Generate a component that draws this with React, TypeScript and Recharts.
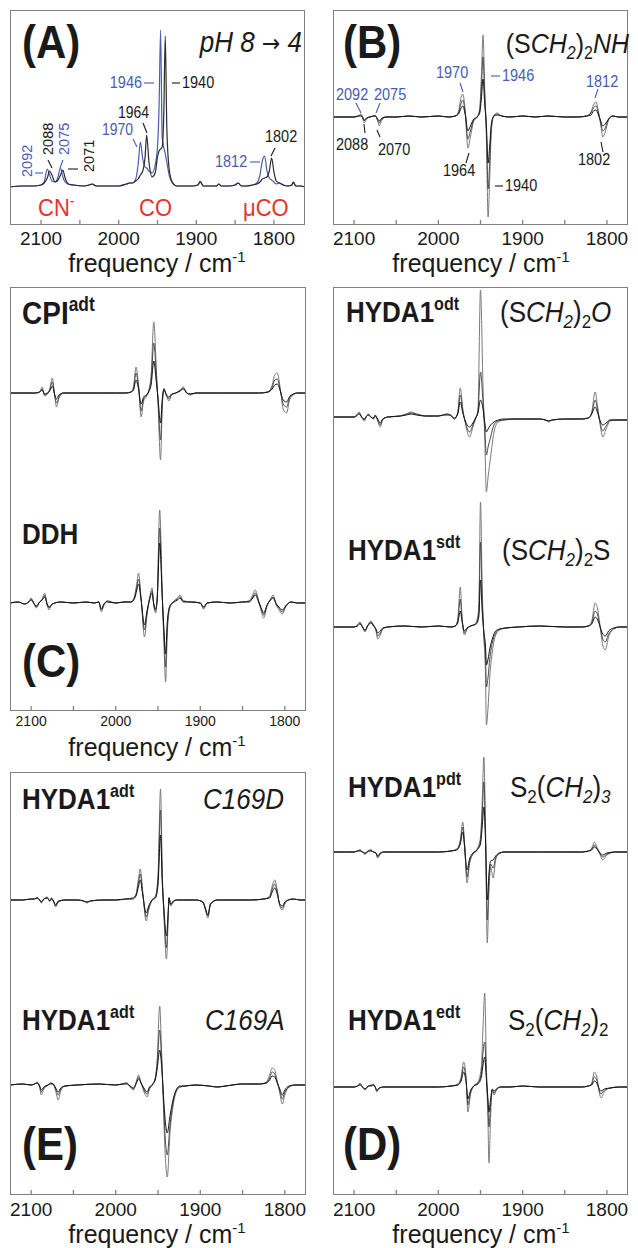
import { LineChart, Line, XAxis, YAxis } from 'recharts';

const FONT = '"Liberation Sans", Arial, Helvetica, sans-serif';
const INK = '#1a1a1a';
const FRAME = '#808080';
const BLUE = '#4b5cb2';
const RED = '#e8322e';
const GRAYS = ['#7a7a7a', '#4a4a4a', '#141414'];
const SY = 1.12; // the figure is slightly stretched vertically

const TICKS = [2100, 2050, 2000, 1950, 1900, 1850, 1800];

// (A) absorbance, pH 8 (blue) and pH 4 (black)
const aFreq = [2140, 2125, 2110, 2100, 2096, 2092, 2089, 2086, 2082, 2079, 2075, 2072, 2069, 2065, 2058, 2045, 2038, 2034, 2029, 2015, 2000, 1990, 1986, 1982, 1978, 1975, 1972, 1969, 1966, 1964, 1961, 1957, 1953, 1950, 1948, 1946, 1944, 1942, 1940, 1938, 1935, 1931, 1925, 1915, 1905, 1898, 1895, 1891, 1880, 1874, 1871, 1868, 1858, 1850, 1846, 1842, 1835, 1828, 1822, 1818, 1815, 1812, 1809, 1806, 1803, 1800, 1797, 1793, 1788, 1782, 1777, 1775, 1772, 1766, 1760];
const aBlue = [0, 1, 1, 2, 5, 18, 12, 6, 5, 8, 19, 10, 5, 3, 2, 1, 2, 3, 1, 1, 1, 3, 4, 4, 8, 22, 45, 28, 20, 19, 16, 14, 22, 40, 80, 157, 50, 40, 33, 25, 12, 4, 1, 1, 1, 2, 6, 1, 1, 1, 3, 1, 1, 2, 4, 1, 1, 2, 4, 12, 26, 31, 16, 9, 7, 5, 3, 4, 2, 1, 2, 5, 1, 1, 0];
const aBlack = [0, 1, 1, 2, 4, 9, 16, 12, 5, 6, 12, 17, 9, 3, 2, 1, 2, 3, 1, 1, 1, 3, 4, 4, 6, 8, 12, 16, 30, 52, 25, 10, 14, 30, 36, 38, 40, 70, 151, 60, 18, 5, 1, 1, 1, 2, 5, 1, 1, 1, 3, 1, 1, 2, 4, 1, 1, 2, 3, 5, 8, 9, 10, 16, 29, 15, 6, 4, 2, 1, 2, 5, 1, 1, 0];

// (B) HYDA1 adt, pH-induced difference spectra
const bFreq = [2125, 2112, 2100, 2095, 2092, 2090, 2088, 2085, 2081, 2077, 2075, 2072, 2070, 2067, 2062, 2050, 2035, 2020, 2000, 1988, 1980, 1976, 1973, 1971, 1968, 1965, 1962, 1958, 1954, 1951, 1949, 1947, 1945, 1943, 1941, 1939, 1937, 1934, 1930, 1925, 1915, 1900, 1885, 1870, 1850, 1835, 1824, 1819, 1816, 1813, 1810, 1807, 1805, 1802, 1798, 1793, 1786, 1775];
const bLarge = [0, 0, 0, 1, 3, 0, -6, -2, 0, 1, 2, -4, -9, -3, 0, 0, 1, 0, 1, 0, 1, 6, 20, 23, 5, -31, -20, -4, 0, 8, 40, 82, 30, -20, -100, -60, -12, 2, 4, 1, 0, 1, 0, 1, 0, 0, 1, 5, 12, 15, 5, -10, -20, -15, -3, 1, 0, 0];
const bMid = [0, 0, 0, 1, 2, 0, -4, -1, 0, 1, 1, -3, -6, -2, 0, 0, 1, 0, 1, 0, 1, 4, 14, 17, 3, -22, -14, -3, 0, 6, 29, 60, 21, -14, -72, -43, -9, 1, 3, 1, 0, 1, 0, 1, 0, 0, 1, 4, 9, 11, 4, -7, -14, -11, -2, 1, 0, 0];
const bSmall = [0, 0, 0, 1, 1, 0, -3, -1, 0, 1, 1, -2, -4, -1, 0, 0, 1, 0, 1, 0, 1, 3, 9, 11, 2, -14, -9, -2, 0, 4, 18, 38, 13, -9, -46, -28, -6, 1, 2, 1, 0, 1, 0, 1, 0, 0, 1, 2, 6, 7, 2, -5, -9, -7, -2, 1, 0, 0];

// (C) CPI adt
const cpiFreq = [2125, 2110, 2095, 2090, 2087, 2084, 2081, 2078, 2075, 2072, 2070, 2067, 2062, 2045, 2020, 2000, 1988, 1982, 1979, 1976, 1973, 1970, 1967, 1964, 1961, 1958, 1955, 1952, 1950, 1947, 1945, 1943, 1940, 1937, 1934, 1929, 1924, 1920, 1916, 1912, 1905, 1880, 1850, 1830, 1820, 1815, 1812, 1809, 1805, 1802, 1798, 1794, 1785, 1775];
const cpiLarge = [0, 0, 0, 1, 6, -3, -1, 4, 15, -4, -14, -5, 0, 0, 0, 0, 0, 1, 6, 26, 8, -24, -8, -4, 2, 20, 71, 25, -10, -67, -15, 5, -3, -8, -2, 0, 3, 6, 0, -2, 0, 0, 0, 0, 1, 8, 18, 20, 2, -16, -20, -6, 0, 0];
const cpiMid = [0, 0, 0, 1, 4, -2, -1, 3, 11, -3, -10, -4, 0, 0, 0, 0, 0, 1, 4, 20, 6, -18, -6, -3, 2, 14, 50, 18, -7, -47, -11, 4, -2, -6, -2, 0, 2, 5, 0, -1, 0, 0, 0, 0, 1, 6, 13, 14, 1, -11, -14, -4, 0, 0];
const cpiSmall = [0, 0, 0, 1, 3, -1, 0, 2, 7, -2, -6, -2, 0, 0, 0, 0, 0, 1, 3, 13, 4, -11, -4, -2, 1, 9, 32, 11, -5, -30, -7, 3, -2, -4, -1, 0, 2, 4, 0, -1, 0, 0, 0, 0, 1, 4, 8, 9, 1, -7, -9, -3, 0, 0];

// (C) DDH
const ddhFreq = [2125, 2115, 2108, 2103, 2100, 2097, 2094, 2090, 2087, 2084, 2081, 2079, 2075, 2065, 2050, 2035, 2025, 2020, 2017, 2014, 2010, 2000, 1990, 1982, 1978, 1975, 1973, 1970, 1966, 1963, 1960, 1957, 1955, 1953, 1951, 1948, 1945, 1943, 1941, 1939, 1936, 1931, 1927, 1924, 1920, 1910, 1900, 1896, 1892, 1880, 1865, 1850, 1842, 1838, 1835, 1831, 1828, 1825, 1821, 1817, 1814, 1810, 1806, 1803, 1799, 1793, 1785, 1775];
const ddhLarge = [0, 1, -1, 1, 5, 0, -5, 1, 4, 10, -2, -7, -1, 1, 0, 1, 0, 1, -9, -2, 2, 0, 1, 1, 6, 20, 30, 5, -34, -12, 5, 15, -2, -10, 5, 93, 10, -40, -79, -30, -5, 2, 5, 8, 2, 1, 0, -6, 0, 1, 0, 1, 2, 8, 13, 2, -8, -15, -3, 4, 8, -2, -8, -11, -4, 1, 0, 0];
const ddhMid = [0, 1, -1, 1, 4, 0, -4, 1, 3, 8, -2, -5, -1, 1, 0, 1, 0, 1, -7, -2, 2, 0, 1, 1, 5, 16, 24, 4, -27, -10, 4, 12, -2, -8, 4, 75, 8, -32, -64, -24, -4, 2, 4, 6, 2, 1, 0, -5, 0, 1, 0, 1, 2, 6, 10, 2, -6, -12, -2, 3, 6, -2, -6, -9, -3, 1, 0, 0];
const ddhSmall = [0, 1, -1, 1, 3, 0, -3, 1, 3, 6, -1, -4, -1, 1, 0, 1, 0, 1, -6, -1, 1, 0, 1, 1, 4, 13, 19, 3, -22, -8, 3, 10, -1, -6, 3, 60, 6, -26, -51, -19, -3, 1, 3, 5, 1, 1, 0, -4, 0, 1, 0, 1, 1, 5, 8, 1, -5, -10, -2, 3, 5, -1, -5, -7, -3, 1, 0, 0];

// (E) HYDA1 adt C169D
const c169dFreq = [2125, 2110, 2100, 2096, 2093, 2090, 2088, 2085, 2081, 2078, 2076, 2073, 2071, 2068, 2060, 2045, 2038, 2034, 2030, 2015, 2000, 1988, 1980, 1976, 1973, 1971, 1968, 1964, 1961, 1957, 1953, 1950, 1947, 1945, 1943, 1940, 1938, 1937, 1935, 1932, 1928, 1920, 1905, 1897, 1894, 1891, 1888, 1880, 1860, 1840, 1825, 1818, 1815, 1812, 1809, 1806, 1803, 1800, 1796, 1790, 1782, 1775];
const c169dLarge = [0, 0, 1, 1, 3, 0, -3, 1, 3, -1, 2, -3, -7, -2, 0, 0, -1, -3, -1, 0, 0, 1, 2, 6, 22, 31, 8, -21, -10, 0, 4, 25, 111, 30, -15, -59, -20, 3, -6, -2, 0, 0, 0, -2, -10, -18, -5, 0, 0, 0, 1, 4, 14, 20, 10, -6, -10, -4, 0, 1, 0, 0];
const c169dMid = [0, 0, 1, 1, 2, 0, -2, 1, 2, -1, 2, -2, -6, -2, 0, 0, -1, -2, -1, 0, 0, 1, 2, 5, 18, 26, 6, -17, -8, 0, 3, 20, 90, 24, -12, -48, -16, 2, -5, -2, 0, 0, 0, -2, -9, -16, -4, 0, 0, 0, 1, 3, 11, 16, 8, -5, -8, -3, 0, 1, 0, 0];
const c169dSmall = [0, 0, 1, 1, 2, 0, -2, 1, 2, -1, 1, -2, -5, -1, 0, 0, -1, -2, -1, 0, 0, 1, 1, 4, 14, 20, 5, -13, -6, 0, 2, 15, 65, 18, -9, -36, -12, 2, -4, -1, 0, 0, 0, -2, -8, -15, -4, 0, 0, 0, 1, 2, 8, 12, 6, -4, -6, -2, 0, 1, 0, 0];

// (E) HYDA1 adt C169A
const c169aFreq = [2125, 2110, 2100, 2096, 2093, 2090, 2088, 2085, 2080, 2077, 2074, 2071, 2068, 2065, 2060, 2045, 2020, 2000, 1992, 1987, 1983, 1979, 1976, 1973, 1970, 1966, 1963, 1960, 1956, 1953, 1951, 1948, 1946, 1944, 1942, 1939, 1936, 1932, 1928, 1924, 1918, 1905, 1890, 1880, 1870, 1850, 1830, 1822, 1818, 1815, 1812, 1809, 1806, 1803, 1800, 1795, 1788, 1775];
const c169aLarge = [0, 1, 0, 1, 3, -2, -10, -4, 0, 2, 1, -6, -15, -6, -1, 0, 1, 0, 1, 2, -2, -5, 2, 10, 2, -8, -12, -4, 1, 8, 25, 79, 40, -10, -60, -92, -50, -20, -6, -2, -1, 0, -1, -2, -1, 1, 1, 3, 10, 17, 15, 4, -8, -19, -10, -2, 0, 0];
const c169aMid = [0, 1, 0, 1, 2, -1, -7, -3, 0, 2, 1, -4, -10, -4, -1, 0, 1, 0, 1, 2, -1, -4, 2, 8, 2, -6, -9, -3, 1, 8, 20, 55, 30, -6, -45, -70, -42, -17, -5, -2, -1, 0, -1, -2, -1, 1, 1, 2, 7, 13, 11, 3, -6, -14, -7, -2, 0, 0];
const c169aSmall = [0, 1, 0, 1, 2, -1, -5, -2, 0, 1, 1, -3, -7, -3, -1, 0, 1, 0, 1, 1, -1, -3, 1, 6, 2, -4, -7, -2, 1, 6, 16, 35, 22, -4, -30, -48, -32, -14, -4, -1, -1, 0, -1, -2, -1, 1, 1, 2, 5, 9, 8, 2, -4, -10, -5, -1, 0, 0];

// (D) HYDA1 odt
const odtFreq = [2125, 2110, 2100, 2097, 2094, 2091, 2088, 2085, 2083, 2080, 2077, 2075, 2072, 2069, 2066, 2060, 2045, 2038, 2032, 2026, 2015, 2000, 1994, 1990, 1986, 1981, 1977, 1974, 1971, 1968, 1963, 1959, 1956, 1953, 1950, 1947, 1945, 1943, 1941, 1938, 1934, 1929, 1922, 1910, 1895, 1880, 1873, 1869, 1865, 1850, 1830, 1822, 1818, 1814, 1811, 1808, 1805, 1801, 1796, 1788, 1775];
const odtLarge = [0, 0, 0, 2, 5, 0, -4, 1, 3, 0, -2, 2, -4, -10, -3, 0, 1, 3, 5, 3, 1, 1, 2, 3, 2, -2, 5, 29, 8, -6, -20, -10, -2, 8, 127, 30, -20, -75, -60, -40, -15, -5, -3, -2, -2, -2, -3, -5, -3, -2, -2, -1, 5, 25, 10, -8, -20, -12, -4, -3, -3];
const odtMid = [0, 0, 0, 2, 4, 0, -3, 1, 2, 0, -2, 2, -3, -8, -2, 0, 1, 3, 4, 3, 1, 1, 2, 3, 2, -2, 4, 22, 6, -5, -15, -8, -2, 6, 45, 15, -10, -38, -30, -20, -8, -4, -3, -2, -2, -2, -3, -4, -3, -2, -2, -1, 4, 17, 7, -6, -14, -9, -3, -3, -3];
const odtSmall = [0, 0, 0, 1, 3, 0, -2, 1, 2, 0, -1, 1, -2, -6, -2, 0, 1, 2, 3, 2, 1, 1, 2, 2, 2, -1, 3, 15, 4, -4, -10, -6, -1, 4, 17, 8, -5, -15, -12, -8, -5, -3, -2, -2, -2, -2, -3, -4, -3, -2, -2, -1, 3, 10, 4, -4, -8, -6, -3, -3, -3];

// (D) HYDA1 sdt
const sdtFreq = [2125, 2110, 2100, 2096, 2093, 2090, 2087, 2084, 2080, 2077, 2074, 2072, 2069, 2066, 2060, 2040, 2020, 2000, 1985, 1980, 1977, 1974, 1972, 1969, 1966, 1962, 1958, 1955, 1952, 1950, 1948, 1946, 1944, 1943, 1941, 1939, 1936, 1932, 1927, 1920, 1905, 1880, 1850, 1830, 1822, 1818, 1814, 1811, 1808, 1805, 1802, 1798, 1792, 1785, 1775];
const sdtLarge = [0, 0, 0, 2, 5, 0, -5, 1, 6, 2, -4, -12, -8, -2, 0, 1, 0, 1, 0, 1, 8, 40, 12, -8, -2, 1, 2, 5, 20, 125, 40, -10, -50, -98, -80, -50, -25, -8, -3, -1, 0, 1, 0, 0, 1, 6, 24, 18, 0, -18, -23, -10, -2, 0, 0];
const sdtMid = [0, 0, 0, 2, 4, 0, -4, 1, 5, 2, -3, -9, -6, -2, 0, 1, 0, 1, 0, 1, 6, 28, 9, -6, -2, 1, 2, 4, 15, 85, 28, -8, -32, -60, -50, -32, -16, -6, -2, -1, 0, 1, 0, 0, 1, 4, 16, 12, 0, -12, -15, -7, -2, 0, 0];
const sdtSmall = [0, 0, 0, 1, 3, 0, -3, 1, 4, 1, -2, -6, -4, -1, 0, 1, 0, 1, 0, 1, 4, 16, 6, -4, -1, 1, 2, 3, 10, 47, 16, -5, -20, -38, -32, -22, -12, -4, -2, -1, 0, 1, 0, 0, 1, 3, 10, 7, 0, -7, -9, -4, -1, 0, 0];

// (D) HYDA1 pdt
const pdtFreq = [2125, 2110, 2100, 2096, 2093, 2090, 2087, 2083, 2080, 2077, 2074, 2072, 2069, 2065, 2050, 2030, 2000, 1985, 1978, 1974, 1971, 1969, 1966, 1963, 1959, 1954, 1950, 1948, 1946, 1944, 1942, 1940, 1938, 1935, 1932, 1928, 1922, 1910, 1880, 1850, 1830, 1822, 1818, 1815, 1812, 1808, 1805, 1800, 1790, 1775];
const pdtLarge = [0, 0, 0, 1, 2, 0, -2, 1, 2, 0, -1, -6, -2, 0, 0, 0, 0, 1, 3, 12, 30, 10, -31, -12, -2, 3, 15, 50, 95, 20, -91, -40, -15, -26, -8, -2, 0, 0, 0, 0, 0, 1, 4, 10, 5, -3, -8, -3, 0, 0];
const pdtMid = [0, 0, 0, 1, 2, 0, -2, 1, 2, 0, -1, -5, -2, 0, 0, 0, 0, 1, 3, 10, 25, 8, -25, -10, -2, 2, 11, 37, 70, 15, -68, -30, -12, -16, -6, -2, 0, 0, 0, 0, 0, 1, 3, 7, 4, -2, -5, -2, 0, 0];
const pdtSmall = [0, 0, 0, 1, 1, 0, -1, 1, 1, 0, -1, -4, -1, 0, 0, 0, 0, 1, 2, 8, 20, 6, -18, -7, -1, 2, 8, 25, 45, 10, -48, -22, -9, -8, -4, -1, 0, 0, 0, 0, 0, 1, 2, 5, 3, -1, -3, -1, 0, 0];

// (D) HYDA1 edt
const edtFreq = [2125, 2110, 2100, 2096, 2093, 2090, 2087, 2083, 2079, 2077, 2075, 2073, 2070, 2065, 2050, 2030, 2000, 1985, 1977, 1973, 1970, 1967, 1965, 1962, 1958, 1953, 1949, 1947, 1945, 1943, 1941, 1940, 1938, 1936, 1934, 1931, 1926, 1915, 1900, 1880, 1850, 1830, 1822, 1818, 1815, 1812, 1809, 1807, 1803, 1796, 1785, 1775];
const edtLarge = [0, 0, 0, 1, 4, 0, -3, 1, 2, 3, 0, -5, -1, 0, 0, 0, 0, 1, 3, 10, 25, 8, -25, -8, 1, 5, 20, 60, 94, 20, -40, -76, -30, -3, -8, -3, 0, 0, 1, 0, 0, 0, 1, 4, 15, 10, -6, -11, -5, -1, 0, 0];
const edtMid = [0, 0, 0, 1, 3, 0, -2, 1, 2, 2, 0, -4, -1, 0, 0, 0, 0, 1, 2, 8, 20, 6, -18, -6, 1, 4, 14, 35, 45, 12, -22, -40, -18, -3, -6, -2, 0, 0, 1, 0, 0, 0, 1, 3, 10, 7, -4, -7, -3, -1, 0, 0];
const edtSmall = [0, 0, 0, 1, 2, 0, -2, 1, 1, 2, 0, -3, -1, 0, 0, 0, 0, 1, 2, 6, 15, 4, -12, -4, 1, 3, 10, 22, 30, 8, -14, -25, -12, -2, -4, -2, 0, 0, 1, 0, 0, 0, 1, 2, 6, 4, -2, -4, -2, -1, 0, 0];

type Spec = { id: string; rows: any[]; n: number; domain: [number, number]; colors: string[]; width: number };

const toRows = (freq: number[], traces: number[][]) =>
  freq.map((f, i) => {
    const r: any = { f };
    traces.forEach((t, k) => { r['t' + k] = t[i]; });
    return r;
  });

// baseline (page y) of each stacked spectrum, inside its box [top, bottom]
const spec = (id: string, freq: number[], traces: number[][], top: number, bottom: number, base: number, colors = GRAYS, width = 1): Spec => ({
  id, rows: toRows(freq, traces), n: traces.length, domain: [-(bottom - base), base - top], colors, width,
});

const specA = [spec('a', aFreq, [aBlue, aBlack], 10, 225, 187, [BLUE, '#2b2b2b'], 1.2)];
const specB = [spec('b', bFreq, [bLarge, bMid, bSmall], 10, 225, 117)];
const specC = [
  spec('cpi', cpiFreq, [cpiLarge, cpiMid, cpiSmall], 287, 711, 393),
  spec('ddh', ddhFreq, [ddhLarge, ddhMid, ddhSmall], 287, 711, 603),
];
const specE = [
  spec('c169d', c169dFreq, [c169dLarge, c169dMid, c169dSmall], 772, 1195, 900),
  spec('c169a', c169aFreq, [c169aLarge, c169aMid, c169aSmall], 772, 1195, 1085),
];
const specD = [
  spec('odt', odtFreq, [odtLarge, odtMid, odtSmall], 287, 1195, 417),
  spec('sdt', sdtFreq, [sdtLarge, sdtMid, sdtSmall], 287, 1195, 627),
  spec('pdt', pdtFreq, [pdtLarge, pdtMid, pdtSmall], 287, 1195, 852),
  spec('edt', edtFreq, [edtLarge, edtMid, edtSmall], 287, 1195, 1087),
];

const FreqTick = ({ x, y, payload, labelSize, labelDy }: any) => {
  const v = payload.value;
  return (
    <g>
      <line x1={x} x2={x} y1={y} y2={y - 5} stroke={FRAME} strokeWidth={1.3} />
      {v % 100 === 0 && (
        <text x={x} y={y + labelDy} textAnchor="middle" fontSize={labelSize} fontFamily={FONT} fill={INK}>
          {v}
        </text>
      )}
    </g>
  );
};

const Panel = ({ box, fDomain, spectra, labelSize, labelDy }: { box: number[]; fDomain: [number, number]; spectra: Spec[]; labelSize: number; labelDy: number }) => {
  const [l, t, r, b] = box;
  const w = r - l;
  const h = b - t;
  const axisH = 34;
  return (
    <div style={{ position: 'absolute', left: l, top: t, width: w, height: h + axisH }}>
      <LineChart width={w} height={h + axisH} margin={{ top: 0, right: 0, bottom: 0, left: 0 }}>
        <XAxis
          type="number"
          dataKey="f"
          domain={fDomain}
          reversed
          allowDataOverflow
          ticks={TICKS}
          interval={0}
          axisLine={false}
          tickLine={false}
          tickSize={0}
          tickMargin={0}
          height={axisH}
          tick={(p: any) => <FreqTick {...p} labelSize={labelSize} labelDy={labelDy} />}
        />
        {spectra.map((s) => (
          <YAxis key={s.id} yAxisId={s.id} domain={s.domain} hide allowDataOverflow />
        ))}
        {spectra.flatMap((s) =>
          Array.from({ length: s.n }, (_, k) => (
            <Line
              key={s.id + k}
              yAxisId={s.id}
              data={s.rows}
              dataKey={'t' + k}
              type="monotone"
              dot={false}
              stroke={s.colors[k]}
              strokeWidth={s.width}
              isAnimationActive={false}
            />
          ))
        )}
      </LineChart>
      <div style={{ position: 'absolute', left: 0, top: 0, width: w, height: h, border: `1.5px solid ${FRAME}`, boxSizing: 'border-box', pointerEvents: 'none' }} />
    </div>
  );
};

const T = ({ x, y, size, children, anchor = 'start', bold = false, italic = false, fill = INK, rotate = 0, flat = false }: any) => (
  <text
    transform={rotate ? `translate(${x},${y}) rotate(${rotate})` : flat ? `translate(${x},${y})` : `translate(${x},${y}) scale(1,${SY})`}
    fontSize={size}
    textAnchor={anchor}
    fontWeight={bold ? 'bold' : 'normal'}
    fontStyle={italic ? 'italic' : 'normal'}
    fill={fill}
    fontFamily={FONT}
  >
    {children}
  </text>
);

const Lead = ({ x1, y1, x2, y2, c = INK }: any) => <line x1={x1} y1={y1} x2={x2} y2={y2} stroke={c} strokeWidth={1.1} />;

const XLabel = ({ x, y }: any) => (
  <T x={x} y={y} size={25} anchor="middle" flat>
    frequency / cm<tspan fontSize={15} dy={-10}>-1</tspan>
  </T>
);

const Enzyme = ({ x, y, name, sup, size = 26 }: any) => (
  <T x={x} y={y} size={size} bold>
    {name}
    <tspan fontSize={size * 0.62} dy={-size * 0.42}>{sup}</tspan>
  </T>
);

export default function App() {
  return (
    <div style={{ position: 'absolute', left: 0, top: 0, width: 638, height: 1248, background: '#fff' }}>
      <Panel box={[10, 10, 305, 225]} fDomain={[1760, 2140]} spectra={specA} labelSize={19} labelDy={20} />
      <Panel box={[333, 10, 628, 225]} fDomain={[1775, 2125]} spectra={specB} labelSize={19} labelDy={20} />
      <Panel box={[10, 287, 306, 711]} fDomain={[1775, 2125]} spectra={specC} labelSize={14} labelDy={15} />
      <Panel box={[10, 772, 306, 1195]} fDomain={[1775, 2125]} spectra={specE} labelSize={19} labelDy={21} />
      <Panel box={[333, 287, 628, 1195]} fDomain={[1775, 2125]} spectra={specD} labelSize={19} labelDy={21} />

      <svg width={638} height={1248} style={{ position: 'absolute', left: 0, top: 0, pointerEvents: 'none' }}>
        {/* (A) */}
        <T x={22} y={58} size={42} bold>(A)</T>
        <T x={302} y={52} size={26} italic anchor="end">
          pH 8 <tspan fontFamily='"DejaVu Sans", sans-serif' fontStyle="normal" fontSize={22}>→</tspan> 4
        </T>
        <T x={142} y={88} size={14.5} fill={BLUE} anchor="end">1946</T>
        <Lead x1={144} y1={83} x2={154} y2={83} c={BLUE} />
        <Lead x1={172} y1={83} x2={180} y2={83} />
        <T x={182} y={88} size={14.5}>1940</T>
        <T x={118} y={118} size={14}>1964</T>
        <Lead x1={143} y1={123} x2={147} y2={133} />
        <T x={102} y={135} size={14} fill={BLUE}>1970</T>
        <Lead x1={133} y1={139} x2={137} y2={147} c={BLUE} />
        <T x={265} y={142} size={14.5}>1802</T>
        <Lead x1={275} y1={148} x2={271} y2={156} />
        <T x={215} y={167} size={14.5} fill={BLUE}>1812</T>
        <Lead x1={250} y1={162} x2={260} y2={162} c={BLUE} />
        <T x={32} y={177} size={14.5} fill={BLUE} rotate={-90}>2092</T>
        <Lead x1={35} y1={173} x2={43} y2={173} c={BLUE} />
        <T x={53} y={155} size={14.5} rotate={-90}>2088</T>
        <Lead x1={48} y1={160} x2={52} y2={168} />
        <T x={69} y={155} size={14.5} fill={BLUE} rotate={-90}>2075</T>
        <Lead x1={63} y1={160} x2={60} y2={168} c={BLUE} />
        <T x={94} y={172} size={14.5} rotate={-90}>2071</T>
        <Lead x1={68} y1={169} x2={78} y2={169} />
        <T x={38} y={216} size={22} fill={RED}>CN<tspan fontSize={14} dy={-9}>-</tspan></T>
        <T x={139} y={216} size={22} fill={RED}>CO</T>
        <T x={243} y={216} size={22} fill={RED}>μCO</T>
        <XLabel x={157} y={272} />

        {/* (B) */}
        <T x={343} y={58} size={42} bold>(B)</T>
        <T x={629} y={53} size={25} anchor="end">
          (S<tspan fontStyle="italic">CH</tspan><tspan fontSize={16} dy={5} fontStyle="italic">2</tspan><tspan dy={-5}>)</tspan><tspan fontSize={16} dy={5}>2</tspan><tspan dy={-5} fontStyle="italic">NH</tspan>
        </T>
        <T x={436} y={78} size={14.5} fill={BLUE}>1970</T>
        <Lead x1={460} y1={83} x2={463} y2={92} c={BLUE} />
        <Lead x1={491} y1={76} x2={500} y2={76} c={BLUE} />
        <T x={502} y={81} size={14.5} fill={BLUE}>1946</T>
        <T x={336} y={100} size={14.5} fill={BLUE}>2092</T>
        <T x={374} y={100} size={14.5} fill={BLUE}>2075</T>
        <Lead x1={356} y1={103} x2={361} y2={113} c={BLUE} />
        <Lead x1={380} y1={103} x2={376} y2={113} c={BLUE} />
        <T x={586} y={87} size={14.5} fill={BLUE}>1812</T>
        <Lead x1={598} y1={89} x2={595} y2={98} c={BLUE} />
        <T x={336} y={150} size={14.5}>2088</T>
        <Lead x1={365} y1={133} x2={364} y2={124} />
        <T x={378} y={155} size={14.5}>2070</T>
        <Lead x1={380} y1={137} x2={377} y2={130} />
        <T x={443} y={176} size={14.5}>1964</T>
        <Lead x1={466} y1={163} x2={469} y2={153} />
        <Lead x1={495} y1={186} x2={503} y2={186} />
        <T x={505} y={191} size={14.5}>1940</T>
        <T x={578} y={165} size={14.5}>1802</T>
        <Lead x1={603} y1={152} x2={601} y2={142} />
        <XLabel x={481} y={272} />

        {/* (C) */}
        <Enzyme x={22} y={324} name="CPI" sup="adt" size={28} />
        <T x={22} y={544} size={26} bold>DDH</T>
        <T x={22} y={677} size={42} bold>(C)</T>
        <XLabel x={157} y={756} />

        {/* (E) */}
        <Enzyme x={22} y={809} name="HYDA1" sup="adt" />
        <T x={203} y={809} size={26} italic>C169D</T>
        <Enzyme x={22} y={1030} name="HYDA1" sup="adt" />
        <T x={205} y={1030} size={26} italic>C169A</T>
        <T x={22} y={1160} size={42} bold>(E)</T>
        <XLabel x={157} y={1243} />

        {/* (D) */}
        <Enzyme x={346} y={322} name="HYDA1" sup="odt" />
        <T x={500} y={322} size={26}>
          (S<tspan fontStyle="italic">CH</tspan><tspan fontSize={17} dy={5} fontStyle="italic">2</tspan><tspan dy={-5}>)</tspan><tspan fontSize={17} dy={5}>2</tspan><tspan dy={-5} fontStyle="italic">O</tspan>
        </T>
        <Enzyme x={348} y={560} name="HYDA1" sup="sdt" />
        <T x={502} y={560} size={26}>
          (S<tspan fontStyle="italic">CH</tspan><tspan fontSize={17} dy={5} fontStyle="italic">2</tspan><tspan dy={-5}>)</tspan><tspan fontSize={17} dy={5}>2</tspan><tspan dy={-5}>S</tspan>
        </T>
        <Enzyme x={348} y={797} name="HYDA1" sup="pdt" />
        <T x={510} y={797} size={26}>
          S<tspan fontSize={17} dy={5}>2</tspan><tspan dy={-5}>(</tspan><tspan fontStyle="italic">CH</tspan><tspan fontSize={17} dy={5} fontStyle="italic">2</tspan><tspan dy={-5}>)</tspan><tspan fontSize={17} dy={5} fontStyle="italic">3</tspan>
        </T>
        <Enzyme x={348} y={1030} name="HYDA1" sup="edt" />
        <T x={508} y={1030} size={26}>
          S<tspan fontSize={17} dy={5}>2</tspan><tspan dy={-5}>(</tspan><tspan fontStyle="italic">CH</tspan><tspan fontSize={17} dy={5} fontStyle="italic">2</tspan><tspan dy={-5}>)</tspan><tspan fontSize={17} dy={5}>2</tspan>
        </T>
        <T x={343} y={1160} size={42} bold>(D)</T>
        <XLabel x={481} y={1243} />
      </svg>
    </div>
  );
}
